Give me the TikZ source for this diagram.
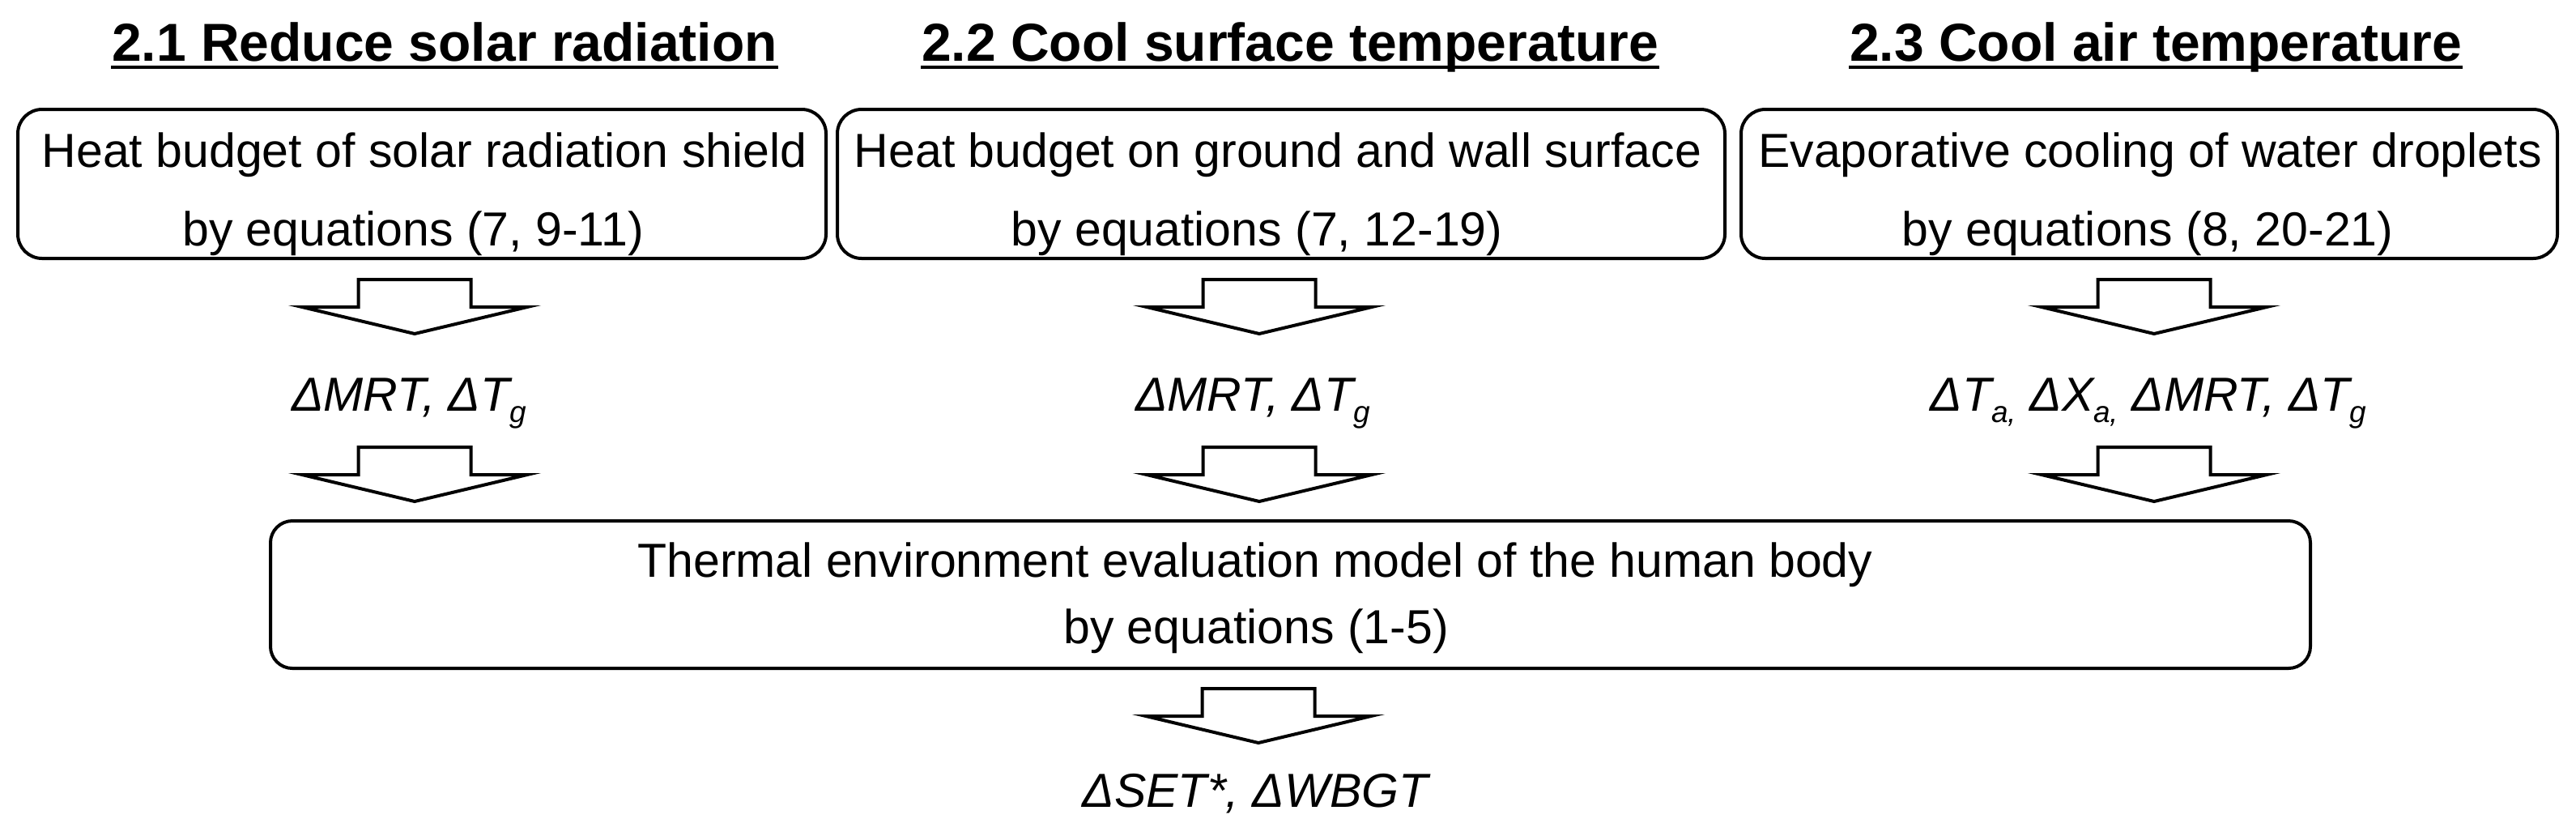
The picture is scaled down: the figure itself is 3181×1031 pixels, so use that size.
\documentclass[tikz,border=0pt]{standalone}
\usepackage{fontspec}
\setmainfont{Liberation Sans}
\newcommand{\lsub}[1]{\raisebox{-3.5pt}{\fontsize{9.25pt}{10pt}\selectfont #1}}
\begin{document}
\begin{tikzpicture}[x=0.25pt,y=-0.25pt,
  ttl/.style={inner sep=0pt,anchor=base,font=\fontsize{16.5pt}{19pt}\selectfont\bfseries},
  uline/.style={line width=1pt},
  boxr/.style={draw,line width=1pt,rounded corners=7.5pt,inner sep=0pt},
  txt/.style={inner sep=0pt,anchor=base,font=\fontsize{14.75pt}{17pt}\selectfont},
  lbl/.style={inner sep=0pt,anchor=base,font=\fontsize{14.75pt}{17pt}\selectfont\itshape},
  barrow/.style={draw,line width=1pt,fill=white,line join=miter}]
\useasboundingbox (0,0) rectangle (3181,1031);

% titles
\node[ttl] (t1) at (549,75) {2.1 Reduce solar radiation};
\node[ttl] (t2) at (1593,75) {2.2 Cool surface temperature};
\node[ttl] (t3) at (2662,75) {2.3 Cool air temperature};
\foreach \t in {t1,t2,t3}
  \draw[uline] ([yshift=-2pt]\t.base west) -- ([yshift=-2pt]\t.base east);

% top boxes
\node[boxr,minimum width=249.5pt,minimum height=46pt] (b1) at (521,227) {};
\node[boxr,minimum width=274pt,minimum height=46pt] (b2) at (1582,227) {};
\node[boxr,minimum width=252pt,minimum height=46pt] (b3) at (2654,227) {};
\node[txt] (b1a) at (524,206) {Heat budget of solar radiation shield};
\node[txt] (b1b) at (510,303) {by equations (7, 9-11)};
\node[txt] (b2a) at (1578,206) {Heat budget on ground and wall surface};
\node[txt] (b2b) at (1552,303) {by equations (7, 12-19)};
\node[txt] (b3a) at (2655,206) {Evaporative cooling of water droplets};
\node[txt] (b3b) at (2652,303) {by equations (8, 20-21)};

% big box
\node[boxr,rounded corners=6.75pt,minimum width=629.75pt,minimum height=45.5pt] (bb) at (1593.5,734) {};
\node[txt] (bba) at (1550,712) {Thermal environment evaluation model of the human body};
\node[txt] (bbb) at (1551,794) {by equations (1-5)};

% labels
\node[lbl] (l1) at (505,507) {ΔMRT, ΔT\lsub{g}};
\node[lbl] (l2) at (1547,507) {ΔMRT, ΔT\lsub{g}};
\node[lbl] (l3) at (2653,507) {ΔT\lsub{a,} ΔX\lsub{a,} ΔMRT, ΔT\lsub{g}};
\node[lbl] (l4) at (1550,996) {ΔSET*, ΔWBGT};

% block arrows
\coordinate (a11) at (512,345);
\coordinate (a12) at (1555,345);
\coordinate (a13) at (2660,345);
\coordinate (a21) at (512,552);
\coordinate (a22) at (1555,552);
\coordinate (a23) at (2660,552);
\coordinate (a31) at (1554,850);
\foreach \a in {a11,a12,a13,a21,a22,a23,a31}
  \draw[barrow] (\a) ++(-69.5,0) -- ++(139,0) -- ++(0,34) -- ++(69.5,0)
     -- ++(-139,33) -- ++(-139,-33) -- ++(69.5,0) -- cycle;
\end{tikzpicture}
\end{document}
